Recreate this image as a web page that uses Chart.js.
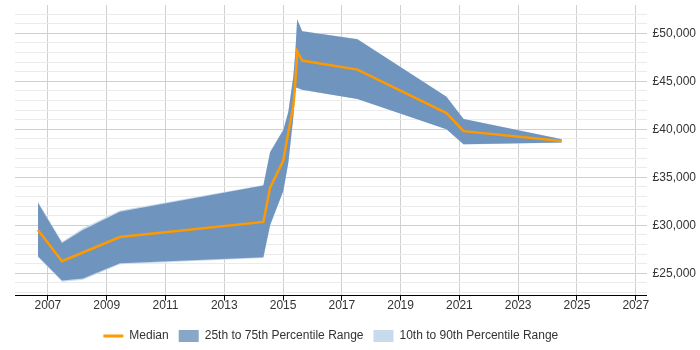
<!DOCTYPE html>
<html>
<head>
<meta charset="utf-8">
<script src="https://cdn.jsdelivr.net/npm/chart.js@4.4.1/dist/chart.umd.min.js"></script>
<style>
  html, body { margin: 0; padding: 0; background: #fff; }
  #wrap { width: 700px; height: 350px; }
</style>
</head>
<body>
<div id="wrap"><canvas id="salaryChart"></canvas></div>
<script>
// Salary trend: median with percentile bands

const years = [2006.66, 2007.48, 2008.19, 2009.45, 2014.33, 2014.56, 2015.01, 2015.18,
               2015.35, 2015.42, 2015.48, 2015.65, 2017.53, 2020.56, 2021.14, 2024.48];

const median = [29520, 26260, 27170, 28780, 30360, 33930, 36760, 39710,
                42440, 44960, 48110, 47160, 46220, 41700, 39810, 38780];

const p75 = [32350, 28150, 29520, 31410, 34140, 37600, 39920, 41810,
             45480, 48110, 51470, 50210, 49370, 43380, 41070, 38970];

const p25 = [26790, 24260, 24470, 26050, 26680, 30040, 33610, 36550,
             41280, 44330, 44330, 44120, 43170, 40020, 38450, 38620];

const p90 = [32450, 28300, 29700, 31550, 34200, 37700, 40000, 41900,
             45600, 48200, 51500, 50250, 49400, 43420, 41100, 38990];

const p10 = [26700, 24120, 24320, 25950, 26600, 29950, 33550, 36500,
             41250, 44300, 44300, 44100, 43150, 40000, 38420, 38600];

const xTickYears = [2007, 2009, 2011, 2013, 2015, 2017, 2019, 2021, 2023, 2025, 2027];

// grid every 1000, label every 5000
const yGridStart = 23000, yGridEnd = 52000, yGridStep = 1000, yLabelStep = 5000;

const colors = {
    median: "#FF9900",
    band: "#6F95BE",
    bandLegend: "#88A6C8",
    outer: "#C9DAEE",
    text: "#333333",
    gridMajor: "#D0D0D0",
    gridMinor: "#EBEBEB"
};

const font = { family: "'Liberation Sans', Arial, sans-serif", size: 12 };

const pts = arr => arr.map((v, i) => ({ x: years[i], y: v }));

const lineBase = { pointRadius: 0, pointHoverRadius: 0, tension: 0 };

// keep the legend centred under the plot area, not the whole canvas
const legendUnderPlot = {
    id: "legendUnderPlot",
    afterLayout(chart) {
        chart.legend.left = chart.chartArea.left;
        chart.legend.right = chart.chartArea.right;
    }
};

const ctx = document.getElementById("salaryChart");

new Chart(ctx, {
    type: "line",
    data: {
        datasets: [
            { ...lineBase, label: "Median", data: pts(median), borderColor: colors.median, borderWidth: 2.5, fill: false },
            { ...lineBase, label: "25th to 75th Percentile Range", data: pts(p75), borderWidth: 0, borderColor: "rgba(0,0,0,0)", backgroundColor: colors.band, fill: "+1" },
            { ...lineBase, label: "p25", data: pts(p25), borderWidth: 0, borderColor: "rgba(0,0,0,0)", fill: false },
            { ...lineBase, label: "10th to 90th Percentile Range", data: pts(p90), borderWidth: 0, borderColor: "rgba(0,0,0,0)", backgroundColor: colors.outer, fill: "+1" },
            { ...lineBase, label: "p10", data: pts(p10), borderWidth: 0, borderColor: "rgba(0,0,0,0)", fill: false }
        ]
    },
    plugins: [legendUnderPlot],
    options: {
        responsive: true,
        maintainAspectRatio: false,
        animation: false,
        layout: { padding: { left: 15, right: -2, top: 5, bottom: -2 } },
        plugins: {
            tooltip: { enabled: false },
            legend: {
                position: "bottom",
                labels: {
                    usePointStyle: true,
                    pointStyleWidth: 20,
                    boxHeight: 13,
                    padding: 10,
                    color: colors.text,
                    font: font,
                    generateLabels: () => [
                        { text: "Median", pointStyle: "line", strokeStyle: colors.median, fillStyle: colors.median, lineWidth: 3, fontColor: colors.text, datasetIndex: 0 },
                        { text: "25th to 75th Percentile Range", pointStyle: "rect", fillStyle: colors.bandLegend, strokeStyle: colors.bandLegend, lineWidth: 0, fontColor: colors.text, datasetIndex: 1 },
                        { text: "10th to 90th Percentile Range", pointStyle: "rect", fillStyle: colors.outer, strokeStyle: colors.outer, lineWidth: 0, fontColor: colors.text, datasetIndex: 3 }
                    ]
                }
            }
        },
        scales: {
            x: {
                type: "linear",
                min: 2005.88,
                max: 2027.37,
                afterBuildTicks: scale => { scale.ticks = xTickYears.map(v => ({ value: v })); },
                afterFit: scale => { scale.height += 9; },
                border: { display: true, color: "#000", width: 1 },
                grid: { color: colors.gridMajor, tickLength: 5, tickColor: "#000" },
                ticks: {
                    padding: -2,
                    color: colors.text,
                    font: font,
                    maxRotation: 0,
                    callback: v => String(v)
                }
            },
            y: {
                position: "right",
                min: 22680,
                max: 52950,
                afterBuildTicks: scale => {
                    const t = [];
                    for (let v = yGridStart; v <= yGridEnd; v += yGridStep) t.push({ value: v });
                    scale.ticks = t;
                },
                afterFit: scale => { scale.paddingTop = 0; },
                border: { display: false },
                grid: {
                    color: c => (c.tick && c.tick.value % yLabelStep === 0) ? colors.gridMajor : colors.gridMinor,
                    drawTicks: false
                },
                ticks: {
                    padding: 6,
                    autoSkip: false,
                    color: colors.text,
                    font: font,
                    callback: v => v % yLabelStep === 0 ? "£" + v.toLocaleString("en-GB") : ""
                }
            }
        }
    }
});
</script>
</body>
</html>
